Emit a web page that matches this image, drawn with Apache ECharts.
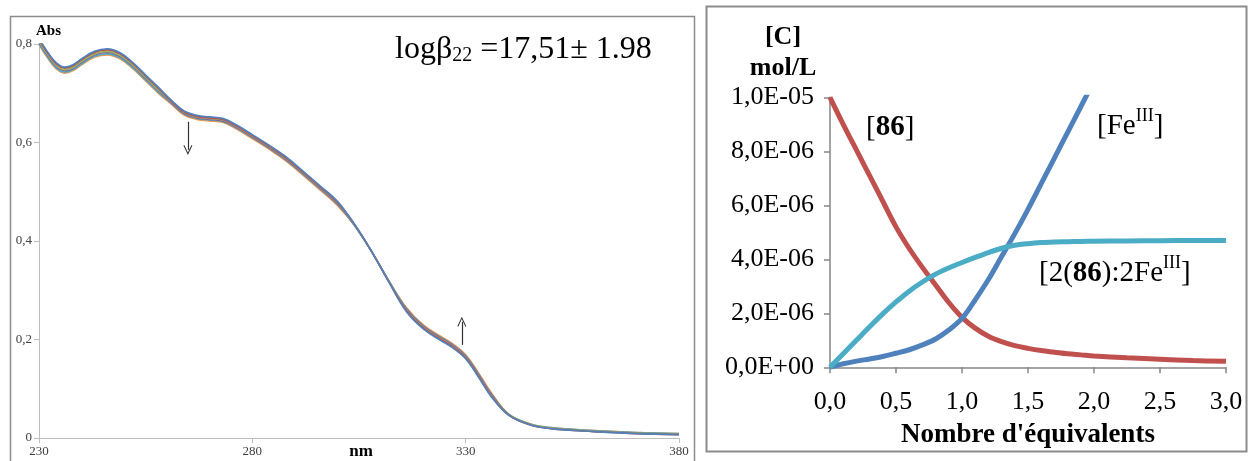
<!DOCTYPE html>
<html>
<head>
<meta charset="utf-8">
<script src="https://cdn.jsdelivr.net/npm/echarts@6/dist/echarts.min.js"></script>
<style>
html,body{margin:0;padding:0;background:#fff;}
#chart{width:1249px;height:461px;}
</style>
</head>
<body>
<div id="chart"></div>
<script>
// ---------- Left chart: UV-vis spectra ----------
const wavelengths = [230,232,234,236,238,240,243,246,249,252,255,258,261,264,267,270,273,276,280,284,288,292,296,300,304,308,312,316,320,324,327,330,333,336,340,345,350,360,370,380];
const absBlue   = [0.811,0.784,0.762,0.753,0.758,0.770,0.785,0.790,0.782,0.762,0.737,0.712,0.686,0.664,0.655,0.652,0.649,0.637,0.616,0.594,0.570,0.541,0.511,0.480,0.433,0.378,0.317,0.258,0.222,0.199,0.183,0.161,0.124,0.084,0.047,0.027,0.019,0.013,0.009,0.007];
const absRed    = [0.809,0.782,0.760,0.751,0.756,0.768,0.783,0.788,0.780,0.760,0.735,0.710,0.684,0.662,0.653,0.650,0.647,0.635,0.614,0.592,0.568,0.539,0.509,0.478,0.433,0.378,0.317,0.260,0.224,0.201,0.185,0.163,0.126,0.086,0.047,0.027,0.019,0.013,0.009,0.007];
const absGreen  = [0.806,0.779,0.757,0.748,0.753,0.765,0.780,0.785,0.777,0.757,0.732,0.707,0.683,0.661,0.652,0.649,0.646,0.634,0.613,0.591,0.567,0.538,0.508,0.477,0.432,0.378,0.318,0.261,0.225,0.202,0.186,0.164,0.127,0.087,0.048,0.028,0.020,0.014,0.010,0.008];
const absPurple = [0.804,0.777,0.755,0.746,0.751,0.763,0.778,0.783,0.775,0.755,0.730,0.705,0.681,0.659,0.650,0.647,0.644,0.632,0.611,0.589,0.565,0.536,0.506,0.475,0.432,0.378,0.318,0.263,0.227,0.204,0.188,0.166,0.129,0.089,0.048,0.028,0.020,0.014,0.010,0.008];
const absTeal   = [0.801,0.774,0.752,0.743,0.748,0.760,0.775,0.780,0.772,0.752,0.727,0.702,0.680,0.658,0.649,0.646,0.643,0.631,0.610,0.588,0.564,0.535,0.505,0.474,0.431,0.378,0.319,0.264,0.228,0.205,0.189,0.167,0.130,0.090,0.049,0.029,0.021,0.015,0.011,0.009];
const absOrange = [0.799,0.772,0.750,0.741,0.746,0.758,0.773,0.778,0.770,0.750,0.725,0.700,0.678,0.656,0.647,0.644,0.641,0.629,0.608,0.586,0.562,0.533,0.503,0.472,0.431,0.378,0.319,0.266,0.230,0.207,0.191,0.169,0.132,0.092,0.049,0.029,0.021,0.015,0.011,0.009];
const spectraColors = ['#4F81BD','#C0504D','#9BBB59','#8064A2','#4BACC6','#F79646'];
const arrowDown = [[264.9,0.642],[264.9,0.585]];
const arrowUp   = [[329.1,0.189],[329.1,0.236]];

// ---------- Right chart: speciation ----------
const equivalents = [0,0.1,0.2,0.3,0.4,0.5,0.6,0.7,0.8,0.9,1.0,1.1,1.2,1.3,1.4,1.5,1.6,1.7,1.8,1.9,2.0,2.25,2.5,2.75,3.0];
const conc86      = [10,9.0,8.05,7.1,6.15,5.2,4.4,3.7,3.05,2.4,1.85,1.45,1.15,0.95,0.8,0.7,0.62,0.56,0.5,0.46,0.42,0.35,0.3,0.25,0.22];
const concComplex = [0,0.5,1.0,1.5,1.98,2.42,2.82,3.16,3.45,3.68,3.88,4.07,4.25,4.41,4.52,4.58,4.62,4.64,4.65,4.66,4.67,4.68,4.69,4.70,4.70];
const concFe      = [0,0.13,0.23,0.31,0.40,0.52,0.65,0.83,1.05,1.38,1.81,2.5,3.25,4.1,4.95,5.85,6.8,7.75,8.7,9.65,10.6];

function pairs(xs, ys, scale){ const out=[]; for(let i=0;i<ys.length;i++) out.push([xs[i], ys[i]*scale]); return out; }

function sciFmt(v){
  if (Math.abs(v) < 1e-12) return '0,0E+00';
  let e = Math.floor(Math.log10(v));
  let m = v/Math.pow(10,e);
  if (+m.toFixed(1) >= 10){ m/=10; e++; }
  if (+m.toFixed(1) < 1){ m*=10; e--; }
  return m.toFixed(1).replace('.',',') + 'E' + (e<0?'-':'+') + String(Math.abs(e)).padStart(2,'0');
}

const serif = 'Liberation Serif';
const chevron = 'path://M0,10 L5,0 L10,10 L9,10.6 L5,2.4 L1,10.6 Z';

const leftSeries = [absBlue,absRed,absGreen,absPurple,absTeal,absOrange].map((arr,i)=>({
  type:'line', xAxisIndex:0, yAxisIndex:0, data: pairs(wavelengths, arr, 1),
  smooth:0.4, showSymbol:false, symbol:'none', clip:true, silent:true,
  lineStyle:{color:spectraColors[i], width:1.7}, itemStyle:{color:spectraColors[i]},
  z: 2 + (5-i),
  markLine: i===0 ? {
    silent:true, symbol:['none', chevron], symbolSize:[9,10], precision:4,
    label:{show:false}, lineStyle:{color:'#333', width:1.2, type:'solid'},
    data:[ [{coord:arrowDown[0]},{coord:arrowDown[1]}], [{coord:arrowUp[0]},{coord:arrowUp[1]}] ]
  } : undefined
}));

const rightLine = (data, color) => ({
  type:'line', xAxisIndex:1, yAxisIndex:1, data, smooth:0.35, showSymbol:false, symbol:'none',
  clip:true, silent:true, lineStyle:{color, width:5}, itemStyle:{color}
});

const chart = echarts.init(document.getElementById('chart'), null, {renderer:'canvas'});
chart.setOption({
  animation:false,
  backgroundColor:'#fff',
  grid:[
    {left:39, top:44, width:640, height:394},
    {left:830, top:97.3, width:396, height:270}
  ],
  xAxis:[
    {gridIndex:0, type:'value', min:230, max:380, interval:50,
     axisLine:{show:true, lineStyle:{color:'#BFBFBF', width:1}},
     axisTick:{show:true, length:5, lineStyle:{color:'#BFBFBF'}},
     splitLine:{show:false},
     axisLabel:{fontFamily:serif, fontSize:13, color:'#404040', margin:7}},
    {gridIndex:1, type:'value', min:0, max:3, interval:0.5,
     axisLine:{show:true, lineStyle:{color:'#868686', width:1.5}},
     axisTick:{show:true, length:6, lineStyle:{color:'#868686', width:1.5}},
     splitLine:{show:false},
     axisLabel:{fontFamily:serif, fontSize:26, color:'#000', margin:22,
       formatter:v=>v.toFixed(1).replace('.',',')}}
  ],
  yAxis:[
    {gridIndex:0, type:'value', min:0, max:0.8, interval:0.2,
     axisLine:{show:true, lineStyle:{color:'#BFBFBF', width:1}},
     axisTick:{show:true, length:5, lineStyle:{color:'#BFBFBF'}},
     splitLine:{show:false},
     axisLabel:{fontFamily:serif, fontSize:13, color:'#404040', margin:7,
       formatter:v=> Math.abs(v)<1e-9 ? '0' : v.toFixed(1).replace('.',',')}},
    {gridIndex:1, type:'value', min:0, max:1e-5, interval:2e-6,
     axisLine:{show:true, lineStyle:{color:'#868686', width:1.5}},
     axisTick:{show:true, length:6, lineStyle:{color:'#868686', width:1.5}},
     splitLine:{show:false},
     axisLabel:{fontFamily:serif, fontSize:26, color:'#000', margin:16, formatter:sciFmt}}
  ],
  series:[
    ...leftSeries,
    rightLine(pairs(equivalents, conc86, 1e-6), '#C0504D'),
    rightLine(pairs(equivalents, concFe, 1e-6), '#4F81BD'),
    rightLine(pairs(equivalents, concComplex, 1e-6), '#4BACC6')
  ],
  graphic:[
    {type:'rect', shape:{x:10.5, y:16.5, width:684, height:470}, style:{fill:'none', stroke:'#8C8C8C', lineWidth:1.5}, silent:true, z:0},
    {type:'rect', shape:{x:706.5, y:6.5, width:540, height:445}, style:{fill:'none', stroke:'#8C8C8C', lineWidth:2}, silent:true, z:0},
    {type:'text', x:36, y:31, silent:true, style:{text:'Abs', fontFamily:serif, fontWeight:'bold', fontSize:15, fill:'#000', verticalAlign:'middle'}},
    {type:'text', x:361, y:452, silent:true, style:{text:'nm', fontFamily:serif, fontWeight:'bold', fontSize:17, fill:'#000', align:'center', verticalAlign:'middle'}},
    {type:'text', x:395, y:31, silent:true, style:{
      text:'{m|logβ}{s|22}{m| =17,51± 1.98}', fill:'#000',
      rich:{ m:{fontFamily:serif, fontSize:32, lineHeight:35, verticalAlign:'bottom', fill:'#000'},
             s:{fontFamily:serif, fontSize:20, lineHeight:18, verticalAlign:'bottom', fill:'#000'} }}},
    {type:'text', x:783, y:37, silent:true, style:{text:'[C]', fontFamily:serif, fontWeight:'bold', fontSize:26, fill:'#000', align:'center', verticalAlign:'middle'}},
    {type:'text', x:783, y:68, silent:true, style:{text:'mol/L', fontFamily:serif, fontWeight:'bold', fontSize:26, fill:'#000', align:'center', verticalAlign:'middle'}},
    {type:'text', x:1028, y:435, silent:true, style:{text:"Nombre d'équivalents", fontFamily:serif, fontWeight:'bold', fontSize:27, fill:'#000', align:'center', verticalAlign:'middle'}},
    {type:'text', x:866, y:112, silent:true, style:{
      text:'{n|[}{b|86}{n|]}',
      rich:{ n:{fontFamily:serif, fontSize:29, lineHeight:32, fill:'#000'},
             b:{fontFamily:serif, fontSize:29, lineHeight:32, fontWeight:'bold', fill:'#000'} }}},
    {type:'text', x:1097, y:107, silent:true, style:{
      text:'{n|[Fe}{p|III}{n|]}',
      rich:{ n:{fontFamily:serif, fontSize:29, lineHeight:34, verticalAlign:'bottom', fill:'#000'},
             p:{fontFamily:serif, fontSize:18, lineHeight:34, verticalAlign:'top', fill:'#000'} }}},
    {type:'text', x:1039, y:254, silent:true, style:{
      text:'{n|[2(}{b|86}{n|):2Fe}{p|III}{n|]}',
      rich:{ n:{fontFamily:serif, fontSize:29, lineHeight:34, verticalAlign:'bottom', fill:'#000'},
             b:{fontFamily:serif, fontSize:29, lineHeight:34, fontWeight:'bold', verticalAlign:'bottom', fill:'#000'},
             p:{fontFamily:serif, fontSize:18, lineHeight:34, verticalAlign:'top', fill:'#000'} }}}
  ]
});
</script>
</body>
</html>
